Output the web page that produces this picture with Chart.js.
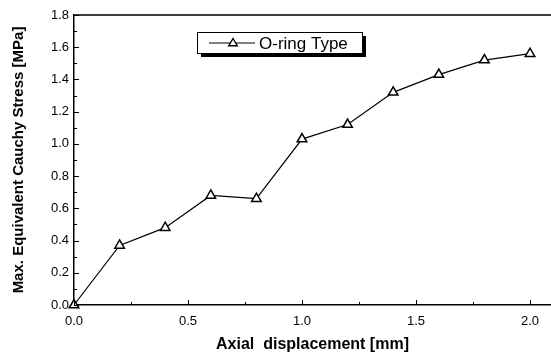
<!DOCTYPE html>
<html>
<head>
<meta charset="utf-8">
<script src="https://cdn.jsdelivr.net/npm/chart.js@4"></script>
<style>
html,body{margin:0;padding:0;background:#fff;overflow:hidden;}
#c{display:block;}
</style>
</head>
<body>
<canvas id="c" width="551" height="361"></canvas>
<script>
const displacement = [0, 0.2, 0.4, 0.6, 0.8, 1.0, 1.2, 1.4, 1.6, 1.8, 2.0];
const stress = [0, 0.37, 0.48, 0.68, 0.66, 1.03, 1.12, 1.32, 1.43, 1.52, 1.56];
const xTicks = [0, 0.5, 1.0, 1.5, 2.0];
const yTicks = [0, 0.2, 0.4, 0.6, 0.8, 1.0, 1.2, 1.4, 1.6, 1.8];
const seriesName = 'O-ring Type';
const xTitle = 'Axial  displacement [mm]';
const yTitle = 'Max. Equivalent Cauchy Stress [MPa]';

const FONT = '"Liberation Sans", Arial, Helvetica, sans-serif';

const frame = {
  id: 'frame',
  afterDraw(chart) {
    const ctx = chart.ctx;
    const a = chart.chartArea;
    const xs = chart.scales.x, ys = chart.scales.y;
    ctx.save();
    ctx.strokeStyle = '#000';
    // top line
    ctx.lineWidth = 1.5;
    ctx.beginPath();
    ctx.moveTo(a.left, a.top);
    ctx.lineTo(a.right, a.top);
    ctx.stroke();
    ctx.lineWidth = 1;
    // x ticks (inward)
    for (let v = 0; v <= 2.0001; v += 0.25) {
      const px = Math.round(xs.getPixelForValue(v)) + 0.5;
      const major = Math.abs(v * 2 - Math.round(v * 2)) < 1e-6;
      ctx.beginPath();
      ctx.moveTo(px, a.bottom);
      ctx.lineTo(px, a.bottom - (major ? 5 : 3));
      ctx.stroke();
    }
    // y ticks (inward)
    for (let i = 0; i <= 18; i++) {
      const v = i / 10;
      const py = Math.round(ys.getPixelForValue(v)) + 0.5;
      const major = i % 2 === 0;
      ctx.beginPath();
      ctx.moveTo(a.left, py);
      ctx.lineTo(a.left + (major ? 5 : 3), py);
      ctx.stroke();
    }
    // legend box
    const bx = 197, by = 32, bw = 165, bh = 21;
    ctx.fillStyle = '#000';
    ctx.fillRect(bx + 4, by + 4, bw, bh);
    ctx.fillStyle = '#fff';
    ctx.fillRect(bx, by, bw, bh);
    ctx.lineWidth = 1;
    ctx.strokeRect(bx + 0.5, by + 0.5, bw, bh);
    const ly = by + bh / 2 + 0.5;
    ctx.lineWidth = 1.2;
    ctx.beginPath();
    ctx.moveTo(209, ly);
    ctx.lineTo(255, ly);
    ctx.stroke();
    // triangle marker
    const tx = 233, r = 4.5;
    ctx.fillStyle = '#fff';
    ctx.lineWidth = 1.4;
    ctx.beginPath();
    ctx.moveTo(tx, ly - r);
    ctx.lineTo(tx + r * 0.95, ly + r * 0.6);
    ctx.lineTo(tx - r * 0.95, ly + r * 0.6);
    ctx.closePath();
    ctx.fill();
    ctx.stroke();
    ctx.fillStyle = '#000';
    ctx.font = '17px ' + FONT;
    ctx.textBaseline = 'middle';
    ctx.textAlign = 'left';
    ctx.fillText(seriesName, 259, ly + 1);
    ctx.restore();
  }
};

new Chart(document.getElementById('c'), {
  type: 'scatter',
  data: {
    datasets: [{
      label: seriesName,
      data: displacement.map((x, i) => ({x: x, y: stress[i]})),
      showLine: true,
      borderColor: '#000',
      borderWidth: 1.2,
      pointStyle: 'triangle',
      pointRadius: 5.5,
      pointBorderWidth: 1.5,
      pointBackgroundColor: '#fff',
      pointBorderColor: '#000',
      clip: false
    }]
  },
  options: {
    responsive: false,
    animation: false,
    devicePixelRatio: 1,
    layout: {autoPadding: false, padding: {top: 15, right: 0, left: 0, bottom: 0}},
    plugins: {legend: {display: false}, tooltip: {enabled: false}},
    scales: {
      x: {
        type: 'linear',
        min: 0,
        max: 2.092,
        afterBuildTicks: s => { s.ticks = xTicks.map(v => ({value: v})); },
        afterFit: s => { s.height = 56; s.paddingRight = 0; s.paddingLeft = 0; },
        grid: {display: false, drawTicks: false},
        border: {display: true, color: '#000', width: 1.5},
        ticks: {
          color: '#000',
          font: {family: FONT, size: 13},
          padding: 9,
          maxRotation: 0,
          callback: v => Number(v).toFixed(1)
        },
        title: {
          display: true,
          text: xTitle,
          color: '#000',
          font: {family: FONT, size: 16, weight: 'bold'},
          padding: {top: 0, bottom: 7}
        }
      },
      y: {
        type: 'linear',
        min: 0,
        max: 1.8,
        afterBuildTicks: s => { s.ticks = yTicks.map(v => ({value: v})); },
        afterFit: s => { s.width = 74; s.paddingTop = 0; s.paddingBottom = 0; },
        grid: {display: false, drawTicks: false},
        border: {display: true, color: '#000', width: 1.5},
        ticks: {
          color: '#000',
          font: {family: FONT, size: 13},
          padding: 5,
          callback: v => Number(v).toFixed(1)
        },
        title: {
          display: true,
          text: yTitle,
          color: '#000',
          font: {family: FONT, size: 15, weight: 'bold'},
          padding: {top: 10, bottom: 0}
        }
      }
    }
  },
  plugins: [frame]
});
</script>
</body>
</html>
